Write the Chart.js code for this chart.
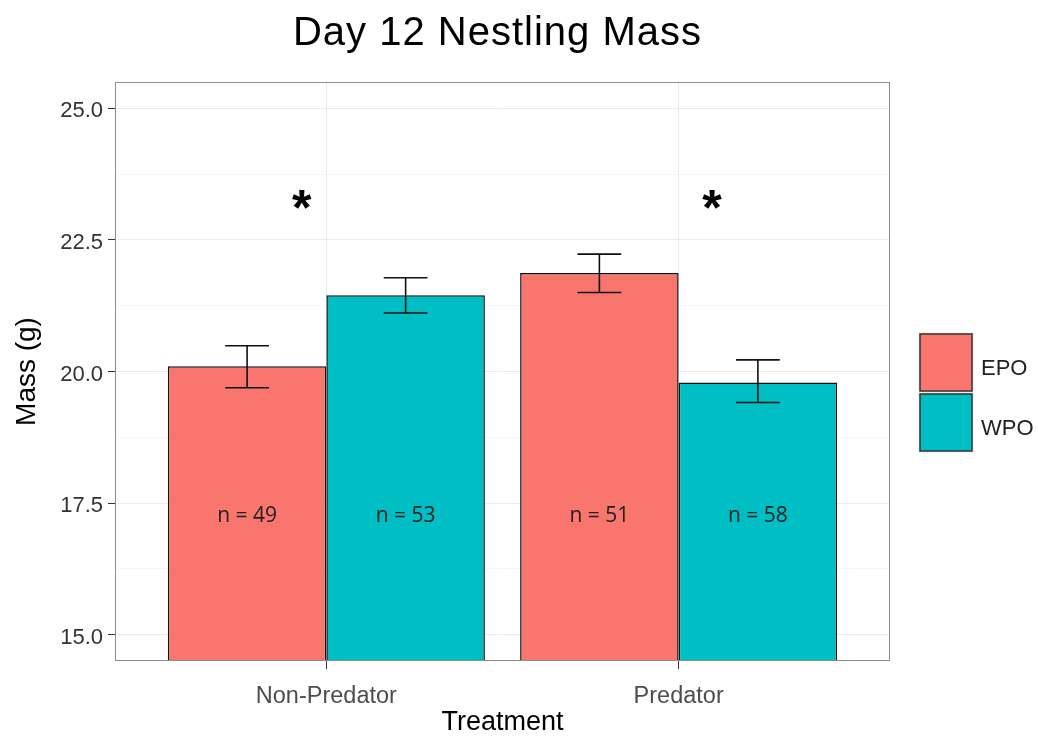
<!DOCTYPE html>
<html>
<head>
<meta charset="utf-8">
<title>Day 12 Nestling Mass</title>
<script src="https://cdn.jsdelivr.net/npm/chart.js@4.4.0/dist/chart.umd.min.js"></script>
<style>
  html, body { margin: 0; padding: 0; background: #fff; }
  #wrap { width: 1038px; height: 736px; }
</style>
</head>
<body>
<div id="wrap"><canvas id="massChart" width="1038" height="736"></canvas></div>
<script>
// data
var treatments = ["Non-Predator", "Predator"];
var treatmentPos = [1, 2];
var epoMass = [20.10, 21.87];
var wpoMass = [21.45, 19.79];
var epoLow = [19.69, 21.50];
var epoHigh = [20.49, 22.23];
var wpoLow = [21.11, 19.41];
var wpoHigh = [21.78, 20.22];
var epoN = ["n = 49", "n = 51"];
var wpoN = ["n = 53", "n = 58"];
var nLabelY = 17.25;
var starX = [0.93, 2.095];
var starY = 23.32;
var yMajor = [15, 17.5, 20, 22.5, 25];
var yMinor = [16.25, 18.75, 21.25, 23.75];

function toPoints(values) {
  return treatmentPos.map(function (x, i) { return { x: x, y: values[i] }; });
}

function isMajor(v) {
  return yMajor.indexOf(v) >= 0;
}

// error bars, n labels, stars, panel frame, title and legend
var extrasPlugin = {
  id: "extras",
  afterDatasetsDraw: function (chart) {
    var ctx = chart.ctx;
    var xs = chart.scales.x;
    var ys = chart.scales.y;
    var area = chart.chartArea;
    var errs = [[epoLow, epoHigh], [wpoLow, wpoHigh]];
    var nTexts = [epoN, wpoN];

    ctx.save();
    chart.data.datasets.forEach(function (ds, d) {
      chart.getDatasetMeta(d).data.forEach(function (bar, i) {
        var hw = bar.width * 0.138;
        var top = ys.getPixelForValue(errs[d][1][i]);
        var bot = ys.getPixelForValue(errs[d][0][i]);
        ctx.strokeStyle = "#111";
        ctx.lineWidth = 1.6;
        ctx.beginPath();
        ctx.moveTo(bar.x, top); ctx.lineTo(bar.x, bot);
        ctx.moveTo(bar.x - hw, top); ctx.lineTo(bar.x + hw, top);
        ctx.moveTo(bar.x - hw, bot); ctx.lineTo(bar.x + hw, bot);
        ctx.stroke();

        ctx.fillStyle = "#222";
        ctx.font = '21px "Open Sans"';
        ctx.textAlign = "center";
        ctx.textBaseline = "middle";
        ctx.fillText(nTexts[d][i], bar.x, ys.getPixelForValue(nLabelY));
      });
    });

    // significance stars
    ctx.fillStyle = "#000";
    ctx.font = 'bold 50px "Liberation Sans"';
    ctx.textAlign = "center";
    ctx.textBaseline = "alphabetic";
    starX.forEach(function (sx) {
      ctx.fillText("*", xs.getPixelForValue(sx), ys.getPixelForValue(starY) + 28);
    });

    // panel border
    ctx.strokeStyle = "#8c8c8c";
    ctx.lineWidth = 1;
    ctx.strokeRect(area.left + 0.5, area.top + 0.5, area.right - area.left - 1, area.bottom - area.top - 1);

    // title
    ctx.fillStyle = "#000";
    ctx.font = '40px "Liberation Sans"';
    ctx.letterSpacing = "1px";
    ctx.textAlign = "center";
    ctx.fillText("Day 12 Nestling Mass", (area.left + area.right) / 2 - 5, 45);
    ctx.letterSpacing = "0px";

    // legend
    var keyLeft = area.right + 30;
    var keyTop = 334;
    chart.data.datasets.forEach(function (ds, d) {
      var ky = keyTop + d * 60;
      ctx.fillStyle = "#e6e6e6";
      ctx.fillRect(keyLeft - 1.5, ky - 1.5, 55, 60);
      ctx.fillStyle = ds.backgroundColor;
      ctx.fillRect(keyLeft, ky, 52, 57);
      ctx.strokeStyle = "#333";
      ctx.lineWidth = 1.5;
      ctx.strokeRect(keyLeft, ky, 52, 57);
      ctx.fillStyle = "#222";
      ctx.font = '22px "Liberation Sans"';
      ctx.textAlign = "left";
      ctx.textBaseline = "alphabetic";
      ctx.fillText(ds.label, keyLeft + 61, ky + 41);
    });
    ctx.restore();
  }
};

var chart = new Chart(document.getElementById("massChart"), {
  type: "bar",
  data: {
    datasets: [{
      label: "EPO",
      data: toPoints(epoMass),
      backgroundColor: "#F8766D",
      borderColor: "#111",
      borderWidth: 1.5,
      categoryPercentage: 0.9,
      barPercentage: 1.0
    }, {
      label: "WPO",
      data: toPoints(wpoMass),
      backgroundColor: "#00BFC4",
      borderColor: "#111",
      borderWidth: 1.5,
      categoryPercentage: 0.9,
      barPercentage: 1.0
    }]
  },
  options: {
    responsive: false,
    animation: false,
    devicePixelRatio: 1,
    layout: { padding: { top: 82, right: 148, bottom: 0, left: 0 } },
    plugins: {
      legend: { display: false },
      title: { display: false },
      tooltip: { enabled: false }
    },
    scales: {
      x: {
        type: "linear",
        min: 0.4,
        max: 2.6,
        offset: false,
        afterBuildTicks: function (scale) {
          scale.ticks = treatmentPos.map(function (v) { return { value: v }; });
        },
        afterFit: function (scale) { scale.height = 75; },
        ticks: {
          autoSkip: false,
          maxRotation: 0,
          padding: 13,
          color: "#4d4d4d",
          font: { family: "Liberation Sans", size: 23.5 },
          callback: function (value, index) { return treatments[index]; }
        },
        grid: { offset: false, color: "#ebebeb", tickColor: "#333", tickLength: 8 },
        border: { display: false },
        title: {
          display: true,
          text: "Treatment",
          color: "#000",
          font: { family: "Liberation Sans", size: 27, lineHeight: 1 },
          padding: { top: 0, bottom: 0 }
        }
      },
      y: {
        type: "linear",
        min: 14.5,
        max: 25.5,
        afterBuildTicks: function (scale) {
          scale.ticks = yMajor.concat(yMinor).sort(function (a, b) { return a - b; })
            .map(function (v) { return { value: v }; });
        },
        afterFit: function (scale) { scale.width = 115; },
        ticks: {
          padding: 5,
          labelOffset: 3,
          color: "#333",
          font: { family: "Liberation Sans", size: 22 },
          callback: function (value) { return isMajor(value) ? value.toFixed(1) : ""; }
        },
        grid: {
          color: function (c) { return c.tick && isMajor(c.tick.value) ? "#ebebeb" : "#f6f6f6"; },
          tickColor: function (c) { return c.tick && isMajor(c.tick.value) ? "#333" : "rgba(0,0,0,0)"; },
          tickLength: 7
        },
        border: { display: false },
        title: {
          display: true,
          text: "Mass (g)",
          color: "#000",
          font: { family: "Liberation Sans", size: 28, lineHeight: 1 },
          padding: { top: 13, bottom: 0 }
        }
      }
    }
  },
  plugins: [extrasPlugin]
});
</script>
</body>
</html>
